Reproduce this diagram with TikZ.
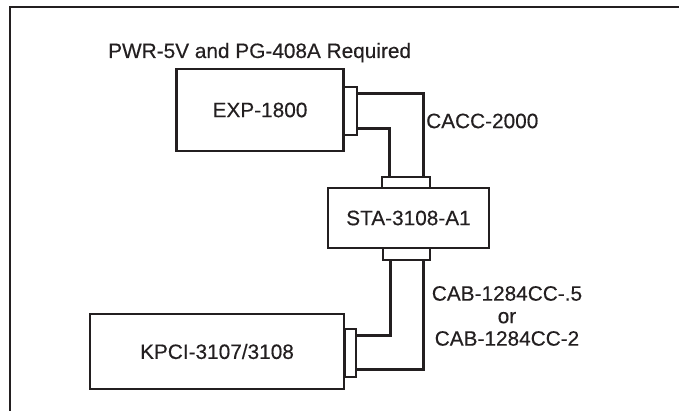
\documentclass[tikz,border=0pt]{standalone}
\usepackage{fontspec}
\setmainfont{Liberation Sans}
\newfontfamily\medfont{Liberation Sans}[FakeBold=0.35]
\definecolor{ink}{RGB}{35,31,32}

\begin{document}
\begin{tikzpicture}[x=1pt, y=-1pt, line join=miter,
		box/.style={draw=ink, line width=2.7pt, inner sep=0pt, rectangle},
		plug/.style={draw=ink, fill=white, line width=2.4pt, inner sep=0pt, rectangle},
		cable/.style={draw=ink, line width=2.7pt},
		lbl/.style={text=ink, inner sep=0pt, font=\medfont\fontsize{20.8}{22.5}\selectfont}]
				\useasboundingbox (0,0) rectangle (679,411);
				\draw[ink, line width=2.2pt] (10,411) |- (679,7);
				\node[lbl, anchor=base west] (T)at(108, 58) {PWR-5V and PG-408A Required};
				\node[box, lbl, minimum width=167.5pt, minimum height=82pt] (E)at(260, 110) {EXP-1800};
				\node[box, lbl, minimum width=161pt, minimum height=60pt] (S)at(408.5, 218) {STA-3108-A1};
				\node[box, lbl, minimum width=254pt, minimum height=75pt] (K)at(217, 351.5) {KPCI-3107/3108};
				\node[plug, minimum width=13pt, minimum height=48pt] (EP)at(350.5, 111) {};
				\node[plug, minimum width=48pt, minimum height=11pt] (ST)at(406, 182.5) {};
				\node[plug, minimum width=47pt, minimum height=12pt] (SB)at(406.5, 254) {};
				\node[plug, minimum width=11pt, minimum height=48pt] (KP)at(350.5, 353) {};
				\draw[cable] ([yshift=-8pt]EP.north east) -| ([xshift=-8pt]ST.north east);
				\draw[cable] ([yshift=8pt]EP.south east) -| ([xshift=9pt]ST.north west);
				\draw[cable] ([xshift=9pt]SB.south west) |- ([yshift=-8pt]KP.north east);
				\draw[cable] ([xshift=-8pt]SB.south east) |- ([yshift=9pt]KP.south east);
				\node[lbl, anchor=west] (C)at(426, 121) {CACC-2000};
				\node[lbl, align=center] (B)at(507, 316) {CAB-1284CC-.5\\or\\CAB-1284CC-2};
		\end{tikzpicture}
\end{document}
